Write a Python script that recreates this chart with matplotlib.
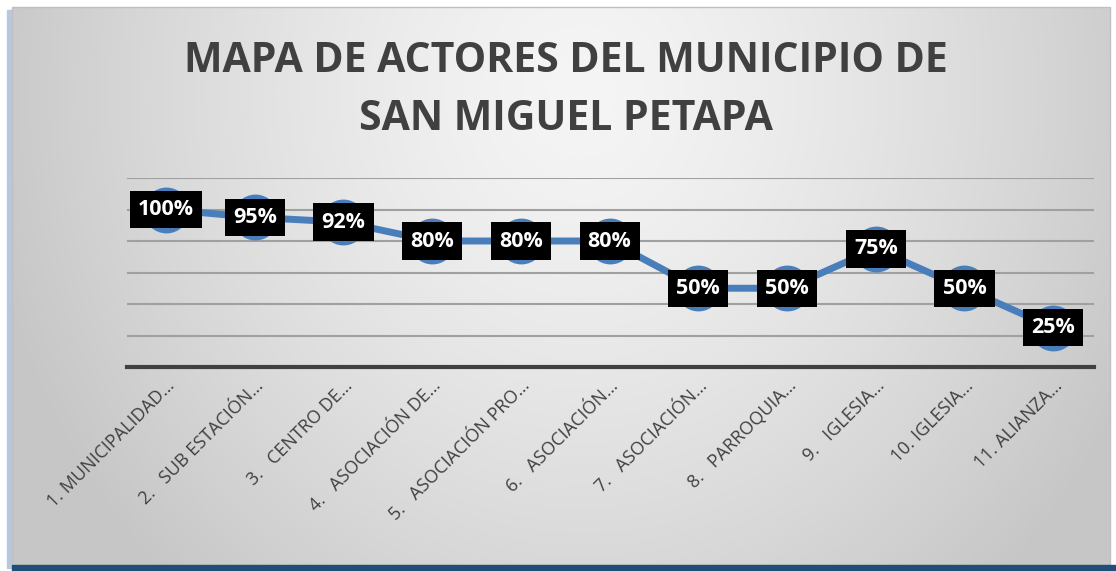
import numpy as np
import matplotlib.pyplot as plt
from matplotlib.patches import Rectangle
from matplotlib.ticker import MultipleLocator

plt.rcParams['font.family'] = ['Open Sans', 'DejaVu Sans']

# datos
actores = ['1. MUNICIPALIDAD…', '2.   SUB ESTACIÓN…', '3.   CENTRO DE…',
           '4.   ASOCIACIÓN DE…', '5.   ASOCIACIÓN PRO…', '6.   ASOCIACIÓN…',
           '7.   ASOCIACIÓN…', '8.   PARROQUIA…', '9.   IGLESIA…',
           '10. IGLESIA…', '11. ALIANZA…']
valores = [100, 95, 92, 80, 80, 80, 50, 50, 75, 50, 25]
etiquetas = ['100%', '95%', '92%', '80%', '80%', '80%', '50%', '50%', '75%', '50%', '25%']
titulo = 'MAPA DE ACTORES DEL MUNICIPIO DE\nSAN MIGUEL PETAPA'

W, H = 1116, 571
fig = plt.figure(figsize=(W / 100, H / 100), dpi=100)

# fondo con degradado
bg = fig.add_axes([0, 0, 1, 1])
bg.set_xlim(0, W)
bg.set_ylim(H, 0)
bg.axis('off')
xx, yy = np.meshgrid(np.linspace(0, 1, 400), np.linspace(0, 1, 200))
r = np.sqrt(((xx - 0.52) / 0.55) ** 2 + ((yy - 0.15) / 1.2) ** 2)
g = 0.96 - 0.18 * np.clip(r, 0, 1) ** 1.4
bg.add_patch(Rectangle((0, 0), W, H, color='white', zorder=0))
bg.add_patch(Rectangle((7, 10), 6, 558, color='#b8c8dc', zorder=1))
bg.imshow(np.dstack([g, g, g]), extent=(12, 1110, 565, 7), aspect='auto', zorder=2)
bg.add_patch(Rectangle((12, 7), 1098, 558, fill=False, ec='#c0c0c0', lw=1, zorder=3))
bg.add_patch(Rectangle((12, 565), 1104, 6, color='#1f4e79', zorder=3))

fig.text(0.507, 0.842, titulo, ha='center', va='center', fontsize=29.5,
         fontweight='bold', color='#404040', linespacing=1.55)

ax = fig.add_axes([127 / W, 1 - 367 / H, 967 / W, 189 / H])
ax.patch.set_alpha(0)
x = np.arange(len(valores))
ax.plot(x, valores, color='#4a7ebb', lw=5, marker='o', ms=32, mec='#4a7ebb',
        mfc='#4a7ebb', zorder=3, solid_capstyle='round')
for xi, v, t in zip(x, valores, etiquetas):
    ax.text(xi, v, t, ha='center', va='center', fontsize=15.5, fontweight='bold',
            color='white', zorder=5,
            bbox=dict(boxstyle='square,pad=0.38', fc='black', ec='none'))

ax.set_ylim(0, 120)
ax.set_xlim(-0.44, 10.46)
ax.yaxis.set_major_locator(MultipleLocator(20))
ax.grid(axis='y', color='#a0a0a0', lw=1.5)
ax.set_axisbelow(True)
ax.set_yticklabels([])
ax.tick_params(axis='y', length=0)
ax.tick_params(axis='x', length=0, pad=7)
ax.set_xticks(x)
ax.set_xticklabels(actores, rotation=45, ha='right', rotation_mode='anchor',
                   fontsize=13, color='#404040')
for s in ['top', 'right', 'left']:
    ax.spines[s].set_visible(False)
ax.spines['bottom'].set_color('#404040')
ax.spines['bottom'].set_linewidth(3)

fig.savefig('out.png', dpi=100)
